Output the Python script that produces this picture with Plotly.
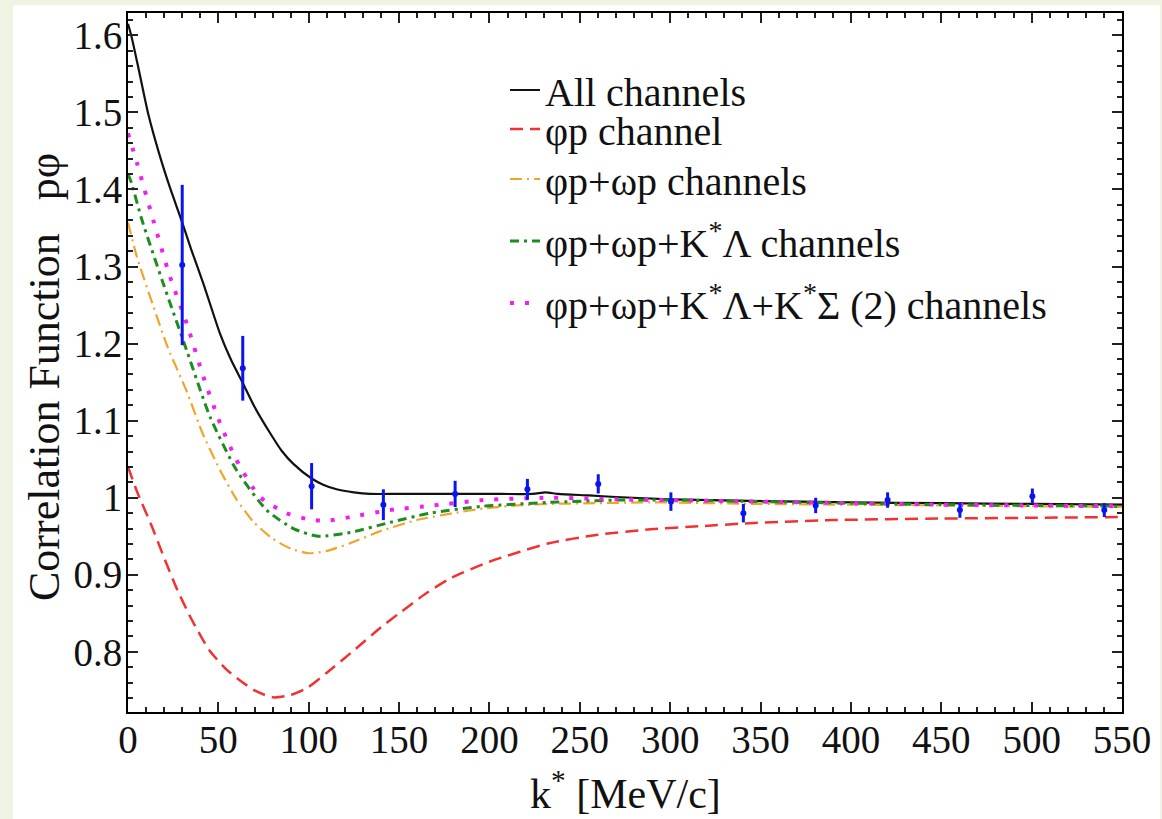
import plotly.graph_objects as go

# ---------------- data ----------------
x_all = [0, 2, 6, 11, 17.7, 23, 29.3, 35, 41.7, 50.9, 57, 63.5, 70, 78.6, 85, 91.5,
         101.6, 108, 115.4, 125, 134, 150, 175, 200, 224, 231, 238, 255, 270, 300,
         344, 400, 450, 500, 550]
y_all = [1.615, 1.598, 1.555, 1.500, 1.443, 1.404, 1.362, 1.322, 1.278, 1.213, 1.179,
         1.149, 1.118, 1.084, 1.061, 1.044, 1.025, 1.017, 1.011, 1.007, 1.005, 1.005,
         1.005, 1.005, 1.005, 1.007, 1.005, 1.003, 1.001, 0.998, 0.996, 0.994, 0.993,
         0.992, 0.991]

x_phi = [0, 5, 13, 20, 27, 35, 45, 55, 62, 70, 80, 90, 99, 110, 125, 140, 150, 165,
         178, 200, 233, 260, 289, 316, 344, 390, 450, 500, 550]
y_phi = [1.040, 1.008, 0.964, 0.922, 0.882, 0.843, 0.802, 0.776, 0.763, 0.750, 0.741,
         0.744, 0.753, 0.773, 0.802, 0.832, 0.850, 0.876, 0.895, 0.917, 0.941, 0.952,
         0.959, 0.963, 0.967, 0.971, 0.973, 0.974, 0.975]

x_om = [0, 5, 13.8, 22, 32.5, 41, 50.9, 60, 69.3, 80, 90, 100, 110, 123, 140, 159.7,
        180, 196.5, 215, 233.5, 260, 289, 350, 400, 450, 500, 550]
y_om = [1.357, 1.312, 1.250, 1.195, 1.138, 1.085, 1.036, 0.998, 0.969, 0.947, 0.934,
        0.928, 0.931, 0.941, 0.957, 0.971, 0.980, 0.986, 0.990, 0.992, 0.993, 0.994,
        0.992, 0.991, 0.990, 0.989, 0.988]

x_kl = [0, 2, 7.5, 19.5, 32.5, 45.4, 60, 76.7, 91.5, 105, 123, 145, 167, 196.5,
        233.5, 270, 300, 350, 400, 450, 500, 550]
y_kl = [1.420, 1.408, 1.362, 1.278, 1.191, 1.105, 1.036, 0.984, 0.960, 0.950, 0.955,
        0.968, 0.980, 0.989, 0.994, 0.997, 0.997, 0.995, 0.993, 0.991, 0.990, 0.989]

x_ks = [0, 5, 14, 23.2, 32.5, 41.7, 50.9, 60, 73, 87.7, 100, 110, 123, 145, 169,
        196.5, 233.5, 270, 300, 350, 400, 450, 500, 550]
y_ks = [1.473, 1.434, 1.360, 1.287, 1.226, 1.157, 1.097, 1.049, 1.001, 0.980, 0.972,
        0.970, 0.975, 0.984, 0.990, 0.997, 1.000, 0.998, 0.997, 0.995, 0.993, 0.991,
        0.990, 0.989]

x_data = [30, 63.5, 101.6, 141.3, 181, 221, 260.2, 300.4, 340.5, 380.5, 420.3, 460.3,
          500.4, 540.2]
y_data = [1.302, 1.168, 1.015, 0.991, 1.005, 1.011, 1.018, 0.995, 0.980, 0.990, 0.997,
          0.984, 1.002, 0.984]
e_data = [0.104, 0.042, 0.030, 0.020, 0.017, 0.0135, 0.0125, 0.012, 0.012, 0.010,
          0.010, 0.010, 0.010, 0.009]

names = ["All channels",
         "φp channel",
         "φp+ωp channels",
         "φp+ωp+K<sup>*</sup>Λ channels",
         "φp+ωp+K<sup>*</sup>Λ+K<sup>*</sup>Σ (2) channels"]

x_ticks = [0, 50, 100, 150, 200, 250, 300, 350, 400, 450, 500, 550]
y_ticks = [0.8, 0.9, 1.0, 1.1, 1.2, 1.3, 1.4, 1.5, 1.6]
y_ticktext = ["0.8", "0.9", "1", "1.1", "1.2", "1.3", "1.4", "1.5", "1.6"]

# ---------------- figure ----------------
FONT = "Liberation Serif, Times New Roman, serif"
fig = go.Figure()

L, R, T, B = 128, 40, 13, 107
W, H = 1162, 819
pw, ph = W - L - R, H - T - B

def px2x(p):
    return (p - L) / pw

def py2y(p):
    return (H - B - p) / ph

styles = [
    dict(color="#111111", width=2.2, dash="solid"),
    dict(color="#f03232", width=2.5, dash="13px,7px"),
    dict(color="#f0a52a", width=2.2, dash="12px,5px,2px,5px"),
    dict(color="#1f8c1f", width=3.0, dash="9px,5px,3px,5px"),
    dict(color="#f020f0", width=4.0, dash="4px,11px"),
]
series = [(x_all, y_all), (x_phi, y_phi), (x_om, y_om), (x_kl, y_kl), (x_ks, y_ks)]
legend_rows = [90, 129, 179, 241, 303]   # pixel centre of each legend row
legend_ids = ["legend", "legend2", "legend3", "legend4", "legend5"]

for (xs, ys), nm, st, lid in zip(series, names, styles, legend_ids):
    fig.add_trace(go.Scatter(x=xs, y=ys, mode="lines", name=nm, legend=lid,
                             line=dict(shape="spline", smoothing=0.6, **st)))

fig.add_trace(go.Scatter(
    x=x_data, y=y_data, mode="markers", showlegend=False,
    marker=dict(color="#0a14f0", size=6),
    error_y=dict(type="data", array=e_data, visible=True, color="#0a14f0",
                 thickness=3, width=0)))

# white slide panel over light-green page
fig.add_shape(type="rect", xref="paper", yref="paper", layer="below",
              x0=px2x(13), x1=px2x(1160), y0=py2y(830), y1=py2y(5),
              fillcolor="white", line=dict(width=0))

axis_common = dict(showgrid=False, zeroline=False, showline=True, linecolor="black",
                   linewidth=2, mirror="ticks", ticks="inside", ticklen=10,
                   tickwidth=2, tickcolor="#222222",
                   tickfont=dict(family=FONT, size=39, color="#111111"))

fig.update_xaxes(range=[0, 550], tickvals=x_ticks, ticklabelstandoff=-8,
                 minor=dict(ticks="inside", ticklen=5, tickwidth=1.5,
                            tickcolor="#222222", dtick=10),
                 **axis_common)
fig.update_yaxes(range=[0.722, 1.629], tickvals=y_ticks, ticktext=y_ticktext,
                 minor=dict(ticks="inside", ticklen=5, tickwidth=1.5,
                            tickcolor="#222222", dtick=0.02, tick0=0.8),
                 ticklabelstandoff=-4,
                 **axis_common)

fig.add_annotation(text="k<sup>*</sup> [MeV/c]", xref="paper", yref="paper",
                   x=px2x(625), y=py2y(790), xanchor="center", yanchor="middle",
                   showarrow=False, font=dict(family=FONT, size=42, color="#111111"))
fig.add_annotation(text="Correlation Function\u00a0\u00a0 pφ", xref="paper", yref="paper",
                   x=px2x(44), y=py2y(377), xanchor="center", yanchor="middle",
                   textangle=-90, showarrow=False,
                   font=dict(family=FONT, size=44, color="#111111"))

legend_layout = {}
for lid, row in zip(legend_ids, legend_rows):
    legend_layout[lid] = dict(x=px2x(505), y=py2y(row), xanchor="left", yanchor="middle",
                              bgcolor="rgba(0,0,0,0)", borderwidth=0,
                              font=dict(family=FONT, size=40, color="#111111"),
                              itemwidth=30)

fig.update_layout(
    width=W, height=H,
    margin=dict(l=L, r=R, t=T, b=B, pad=0),
    paper_bgcolor="#eef3e2", plot_bgcolor="white",
    showlegend=True,
    **legend_layout,
)

fig.write_html("out.html")
